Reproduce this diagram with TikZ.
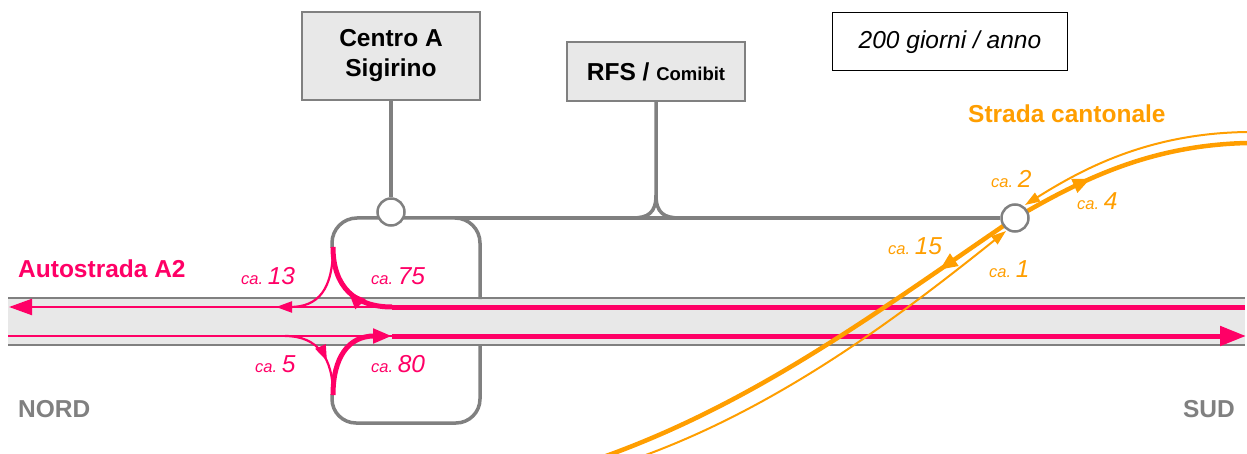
\documentclass[tikz,border=0pt]{standalone}
\usepackage{fontspec}
\setmainfont{Liberation Sans}
\usetikzlibrary{arrows.meta,decorations.markings}
\pgfdeclarelayer{bg}
\pgfdeclarelayer{mid}
\pgfsetlayers{bg,mid,main}
\definecolor{pk}{RGB}{255,0,102}
\definecolor{og}{RGB}{255,158,0}
\definecolor{gr}{RGB}{128,128,128}
\definecolor{boxfill}{RGB}{232,232,232}
\newcommand\szmain{\fontsize{24.5}{30}\selectfont}
\newcommand\szsmall{\fontsize{16.5}{19}\selectfont}
\newcommand\szmid{\fontsize{18.5}{22}\selectfont}
\tikzset{
  facility/.style={draw=gr, line width=2pt, fill=boxfill, font=\szmain\bfseries,
    align=center, inner sep=0pt},
  junction/.style={circle, draw=gr, line width=2.5pt, fill=white,
    minimum size=27pt, inner sep=0pt},
  road/.style={draw=gr, line width=3.5pt},
  laneedge/.style={draw=gr, line width=2pt},
  pkthick/.style={color=pk, line width=5pt},
  pkthin/.style={color=pk, line width=2.2pt},
  ogthick/.style={color=og, line width=4.5pt},
  ogthin/.style={color=og, line width=2pt},
  midtip/.style 2 args={postaction={decorate},
    decoration={markings, mark=at position #1 with {\arrow{#2}}}},
  title/.style={anchor=base west, inner sep=0pt, font=\szmain\bfseries},
  count/.style={anchor=base west, inner sep=0pt, font=\itshape},
}
\newcommand\cnt[1]{\szsmall ca.\ \szmain #1}
\begin{document}
\begin{tikzpicture}[x=1pt,y=-1pt]
\useasboundingbox (0,0) rectangle (1247,454);

% facilities and junctions
\node[facility, minimum width=178pt, minimum height=88pt] (centro) at (391,56) {Centro A\\Sigirino};
\node[facility, minimum width=178pt, minimum height=59pt] (rfs) at (656,71.5) {RFS / {\szmid Comibit}};
\node[draw=black, line width=1pt, minimum width=235pt, minimum height=58pt,
      font=\szmain\itshape, inner sep=0pt] (freq) at (950,42) {200 giorni / anno};
\node[junction] (j1) at (391,212) {};
\node[junction] (j2) at (1015,218) {};

% names of roads and directions
\node[title, text=og] (sc) at (968,123) {Strada cantonale};
\node[title, text=pk] (a2) at (18,278) {Autostrada A2};
\node[title, text=gr] (nord) at (18,417) {NORD};
\node[title, text=gr, anchor=base east] (sud) at (1235,417) {SUD};

% traffic counts
\node[count, text=pk] (n13) at (241,284) {\cnt{13}};
\node[count, text=pk] (n75) at (371,284) {\cnt{75}};
\node[count, text=pk] (n5) at (255,372) {\cnt{5}};
\node[count, text=pk] (n80) at (371,372) {\cnt{80}};
\node[count, text=og] (n2) at (991,188) {\cnt{2}};
\node[count, text=og] (n4) at (1077,210) {\cnt{4}};
\node[count, text=og] (n15) at (888,255) {\cnt{15}};
\node[count, text=og] (n1) at (989,277) {\cnt{1}};

% motorway band and access loop
\begin{pgfonlayer}{bg}
  \fill[boxfill] (8,298) rectangle (1245,345);
  \draw[laneedge] (8,298) -- (1245,298);
  \draw[laneedge] (8,345) -- (1245,345);
  \draw[road, rounded corners=25pt] (332,248) -- (332,218) -- (480,218) -- (480,299);
  \draw[road, rounded corners=24pt] (332,394) -- (332,423) -- (480,423) -- (480,344);
  \draw[road] (centro.south) -- (j1.north);
  \draw[road] (455,218) -- (j2.west);
  \coordinate (fork) at (656,195);
  \draw[road] (rfs.south) -- (fork) .. controls (656,213) and (648,218) .. (632,218);
  \draw[road] (fork) .. controls (656,213) and (664,218) .. (680,218);
\end{pgfonlayer}

\begin{pgfonlayer}{mid}
  % motorway, northbound
  \draw[pkthick] (1245,307) -- (392,307);
  \draw[pkthin, -{Triangle[length=23pt,width=16pt]}] (392,307) -- (9,307);
  \draw[pkthick, midtip={0.5}{Triangle[length=18pt,width=13pt]}]
    (392,307) .. controls (355,307) and (333,287) .. (333,247);
  \draw[pkthin, -{Triangle[length=16pt,width=11pt]}]
    (333,247) .. controls (333,290) and (318,307) .. (290,307) -- (276,307);
  % motorway, southbound
  \draw[pkthin] (8,336) -- (392,336);
  \draw[pkthick, -{Triangle[length=26pt,width=19pt]}] (392,336) -- (1246,336);
  \draw[pkthin, midtip={0.6}{Triangle[length=16pt,width=11pt]}]
    (285,336) .. controls (318,336) and (333,358) .. (333,395);
  \draw[pkthick, -{Triangle[length=19pt,width=14pt]}]
    (333,395) .. controls (333,358) and (348,336) .. (392,336);

  % cantonal road
  \draw[ogthick, midtip={88pt}{Triangle[length=18pt,width=14pt]}]
    (1012,220) .. controls (880,310) and (758,401) .. (606,456);
  \draw[ogthick, midtip={89pt}{Triangle[length=18pt,width=14pt]}]
    (1012,220) .. controls (1080,180) and (1150,145) .. (1248,143);
  \draw[ogthin, -{Triangle[length=15pt,width=10pt]}]
    (643,456) .. controls (785,404) and (906,311) .. (1006,231);
  \draw[ogthin, -{Triangle[length=15pt,width=10pt]}]
    (1248,132) .. controls (1150,133) and (1084,168) .. (1025,205);
\end{pgfonlayer}
\end{tikzpicture}
\end{document}
